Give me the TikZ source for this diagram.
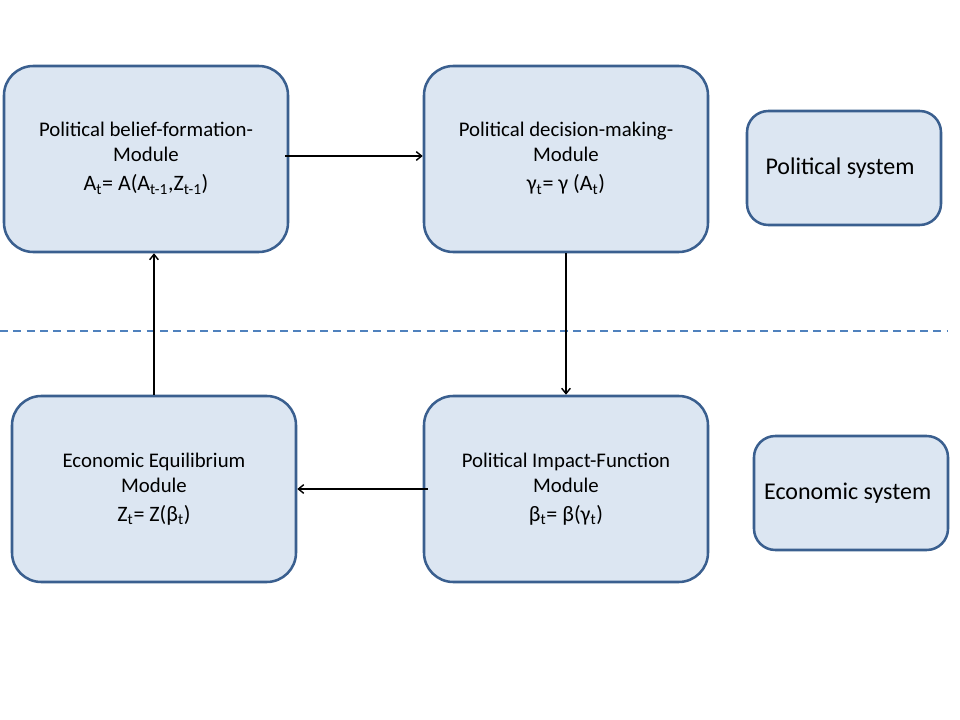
\documentclass[tikz,border=0pt]{standalone}
\usepackage{fontspec}
\setmainfont{Carlito}
\usetikzlibrary{arrows.meta}
\definecolor{boxfill}{HTML}{DCE6F2}
\definecolor{boxdraw}{HTML}{3A5F8F}
\definecolor{dashblue}{HTML}{4F81BD}
\newcommand{\eqfont}{\fontsize{16.5}{19}\selectfont}
\begin{document}
\begin{tikzpicture}[x=0.75pt,y=-0.75pt,
  modbox/.style={draw=boxdraw,fill=boxfill,line width=1.9pt,rounded corners=22pt,
    minimum width=213pt,minimum height=139.5pt,align=center,inner sep=0pt,font=\fontsize{15.6}{18.75}\selectfont},
  sysbox/.style={draw=boxdraw,fill=boxfill,line width=1.9pt,rounded corners=16pt,
    minimum width=145.5pt,minimum height=85.5pt,align=center,inner sep=0pt,font=\fontsize{18}{21}\selectfont},
  conn/.style={line width=1.2pt,-{Straight Barb[length=4pt,width=6.5pt,line width=1.1pt]}}]
\useasboundingbox (0,0) rectangle (960,720);
\node[modbox] (b1) at (146,159) {\raisebox{6pt}{\begin{tabular}{@{}c@{}}Political belief-formation-\\Module\\[3pt]{\eqfont A\textsubscript{t}= A(A\textsubscript{t-1},Z\textsubscript{t-1})}\end{tabular}}};
\node[modbox] (b2) at (566,159) {\raisebox{6pt}{\begin{tabular}{@{}c@{}}Political decision-making-\\Module\\[3pt]{\eqfont γ\textsubscript{t}= γ (A\textsubscript{t})}\end{tabular}}};
\node[modbox] (b3) at (154,489) {\raisebox{6pt}{\begin{tabular}{@{}c@{}}Economic Equilibrium\\Module\\[3pt]{\eqfont Z\textsubscript{t}= Z(β\textsubscript{t})}\end{tabular}}};
\node[modbox] (b4) at (566,489) {\raisebox{6pt}{\begin{tabular}{@{}c@{}}Political Impact-Function\\Module\\[3pt]{\eqfont β\textsubscript{t}= β(γ\textsubscript{t})}\end{tabular}}};
\node[sysbox] (ps) at (844,168) {\hspace*{-6pt}Political system};
\node[sysbox] (es) at (851,493) {\hspace*{-5pt}Economic system};
\coordinate (dl) at (0,331);
\coordinate (dr) at (948,331);
\draw[dashblue,line width=1.1pt,dash pattern=on 6pt off 4pt] (dl) -- (dr);
\draw[conn] ([xshift=-3pt,yshift=2.25pt]b1.east) -- ([yshift=2.25pt]b2.west);
\draw[conn] (b2.south) -- (b4.north);
\draw[conn] ([xshift=4pt]b4.west) -- (b3.east);
\draw[conn] (b3.north) -- (b3.north |- b1.south);
\end{tikzpicture}
\end{document}
